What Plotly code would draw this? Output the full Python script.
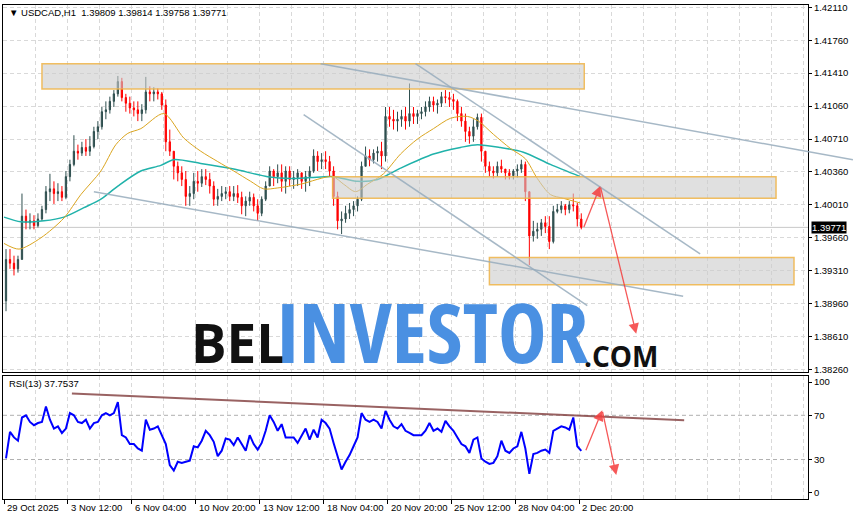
import plotly.graph_objects as go

# ---------------- data ----------------
symbol = "USDCAD,H1"
header_ohlc = ["1.39809", "1.39814", "1.39758", "1.39771"]
rsi_title = "RSI(13) 37.7537"
last_price = 1.39771

first_open = 1.3899
close = [1.3943,1.3939,1.3933,1.3943,1.3989,1.3982,1.3984,1.3979,1.3986,1.3996,
         1.4015,1.4018,1.4013,1.4015,1.4009,1.4031,1.4044,1.4058,1.4056,1.4062,
         1.4058,1.4063,1.4079,1.4084,1.4100,1.4102,1.4111,1.4119,1.4132,1.4115,
         1.4109,1.4104,1.4102,1.4098,1.4102,1.4121,1.4119,1.4121,1.4119,1.4107,
         1.4068,1.4058,1.4042,1.4035,1.4028,1.4010,1.4013,1.4026,1.4024,1.4031,
         1.4028,1.4021,1.4007,1.4010,1.4013,1.4015,1.4010,1.4013,1.4009,1.4000,
         1.4005,1.4009,1.4000,1.3992,1.4007,1.4021,1.4037,1.4031,1.4035,1.4026,
         1.4037,1.4028,1.4030,1.4035,1.4026,1.4031,1.4037,1.4053,1.4047,1.4049,
         1.4047,1.4037,1.4010,1.3984,1.3986,1.3992,1.3996,1.4000,1.4007,1.4042,
         1.4053,1.4049,1.4056,1.4058,1.4053,1.4095,1.4092,1.4090,1.4092,1.4095,
         1.4090,1.4098,1.4095,1.4098,1.4100,1.4105,1.4111,1.4107,1.4109,1.4116,
         1.4115,1.4113,1.4111,1.4098,1.4090,1.4079,1.4074,1.4084,1.4094,1.4058,
         1.4042,1.4037,1.4035,1.4042,1.4039,1.4035,1.4032,1.4037,1.4039,1.4044,
         1.4015,1.3968,1.3973,1.3975,1.3982,1.3978,1.3962,1.3994,1.3996,1.4000,
         1.3996,1.4001,1.4000,1.3986,1.39771]
high = [1.3954,1.3954,1.3947,1.3947,1.4013,1.3996,1.3992,1.3990,1.3992,1.4000,
        1.4021,1.4034,1.4026,1.4024,1.4021,1.4037,1.4049,1.4075,1.4065,1.4068,
        1.4071,1.4074,1.4084,1.4090,1.4105,1.4111,1.4116,1.4123,1.4138,1.4136,
        1.4119,1.4116,1.4111,1.4111,1.4108,1.4137,1.4127,1.4126,1.4125,1.4121,
        1.4113,1.4081,1.4058,1.4047,1.4042,1.4037,1.4021,1.4035,1.4037,1.4039,
        1.4039,1.4035,1.4026,1.4018,1.4021,1.4020,1.4021,1.4021,1.4022,1.4015,
        1.4010,1.4015,1.4013,1.4007,1.4010,1.4026,1.4042,1.4039,1.4044,1.4044,
        1.4042,1.4042,1.4037,1.4039,1.4035,1.4037,1.4042,1.4060,1.4058,1.4056,
        1.4058,1.4053,1.4042,1.4015,1.3994,1.4000,1.4003,1.4005,1.4010,1.4047,
        1.4063,1.4060,1.4060,1.4063,1.4068,1.4105,1.4105,1.4102,1.4100,1.4102,
        1.4105,1.4130,1.4105,1.4102,1.4105,1.4111,1.4116,1.4116,1.4113,1.4121,
        1.4123,1.4121,1.4119,1.4113,1.4105,1.4098,1.4084,1.4092,1.4098,1.4098,
        1.4058,1.4047,1.4042,1.4047,1.4049,1.4039,1.4039,1.4039,1.4044,1.4049,
        1.4047,1.4015,1.3984,1.3982,1.3986,1.3989,1.3989,1.4000,1.4002,1.4005,
        1.4002,1.4005,1.4013,1.4003,1.3992]
low = [1.3888,1.3933,1.3926,1.3929,1.3943,1.3975,1.3975,1.3975,1.3977,1.3984,
       1.3992,1.4005,1.4002,1.4005,1.4005,1.4007,1.4026,1.4042,1.4049,1.4053,
       1.4053,1.4053,1.4061,1.4071,1.4081,1.4092,1.4098,1.4105,1.4116,1.4111,
       1.4100,1.4098,1.4095,1.4090,1.4090,1.4098,1.4111,1.4111,1.4113,1.4102,
       1.4058,1.4053,1.4028,1.4026,1.4021,1.4000,1.4000,1.4007,1.4015,1.4020,
       1.4022,1.4013,1.4000,1.4000,1.4005,1.4007,1.4005,1.4005,1.4003,1.3991,
       1.3989,1.4000,1.3994,1.3984,1.3989,1.4005,1.4021,1.4021,1.4024,1.4015,
       1.4013,1.4021,1.4018,1.4021,1.4018,1.4015,1.4021,1.4035,1.4037,1.4039,
       1.4039,1.4031,1.4000,1.3975,1.3970,1.3982,1.3986,1.3989,1.3994,1.4005,
       1.4042,1.4042,1.4045,1.4047,1.4039,1.4047,1.4084,1.4081,1.4079,1.4084,
       1.4081,1.4084,1.4087,1.4087,1.4092,1.4095,1.4100,1.4100,1.4098,1.4105,
       1.4109,1.4105,1.4102,1.4090,1.4084,1.4068,1.4066,1.4068,1.4081,1.4047,
       1.4035,1.4031,1.4029,1.4031,1.4035,1.4028,1.4028,1.4028,1.4030,1.4035,
       1.4005,1.3937,1.3962,1.3965,1.3968,1.3971,1.3954,1.3960,1.3992,1.3992,
       1.3990,1.3992,1.3994,1.3978,1.3975]
rsi = [31,55,50,47,68,70,64,61,63,64,
       78,66,58,60,54,58,72,70,64,63,
       66,58,63,64,70,72,70,72,82,52,
       50,44,44,40,38,66,57,58,60,52,
       44,25,20,28,27,28,29,42,41,47,
       56,52,46,33,38,49,48,43,50,44,
       38,52,44,39,45,56,70,64,56,62,
       50,50,50,45,52,58,48,57,50,66,
       63,58,45,33,21,28,34,42,50,72,
       66,64,66,64,58,74,66,60,58,62,
       56,54,52,52,52,56,63,56,58,55,
       65,60,56,50,44,42,36,48,50,31,
       28,26,27,33,47,38,36,40,42,55,
       40,17,35,36,38,39,36,56,58,60,
       59,57,68,42,37.7537]

bar_hours = 4  # each drawn candle aggregates 4 hourly bars

ma_fast_hours = [0,15,37,60,77,97,112,124,137,160,180,197,214,230,247,260,274,297,329,340,
                 352,364,380,397,414,430,447,464,475,490,507,522,534,547,560,577]
ma_fast = [1.3960,1.3954,1.3966,1.3987,1.4012,1.4037,1.4065,1.4077,1.4082,1.4098,
           1.4072,1.4058,1.4047,1.4037,1.4026,1.4018,1.4019,1.4023,1.4031,1.4023,
           1.4015,1.4023,1.4034,1.4055,1.4071,1.4082,1.4093,1.4095,1.4090,1.4076,
           1.4061,1.4050,1.4029,1.4012,1.4008,1.4003]
ma_slow_hours = [0,17,40,60,80,97,114,137,157,170,197,230,264,287,307,330,354,374,397,430,
                 457,474,497,520,547,577]
ma_slow = [1.3988,1.3983,1.3984,1.3988,1.3998,1.4007,1.4021,1.4037,1.4043,1.4049,
           1.4045,1.4039,1.4031,1.4029,1.4030,1.4031,1.4026,1.4028,1.4040,1.4055,
           1.4062,1.4065,1.4062,1.4057,1.4044,1.4031]

date_labels = ["29 Oct 2025", "3 Nov 12:00", "6 Nov 04:00", "10 Nov 20:00", "13 Nov 12:00",
               "18 Nov 04:00", "20 Nov 20:00", "25 Nov 12:00", "28 Nov 04:00", "2 Dec 20:00"]
date_label_hours = [0, 64, 128, 192, 256, 320, 384, 448, 512, 576]
price_ticks = [1.42110, 1.41760, 1.41410, 1.41060, 1.40710, 1.40360,
               1.40010, 1.39660, 1.39310, 1.38960, 1.38610, 1.38260]
rsi_ticks = [0, 30, 70, 100]
rsi_levels = [30, 70]

# drawn objects (hour index, price)
zones = [(38, 581, 1.4124, 1.4151), (329, 773, 1.4008, 1.4031), (486, 791, 1.3916, 1.3945)]
trend_lines = [((317, 1.4151), (850, 1.4049)), ((90, 1.4015), (680, 1.3904)),
               ((300, 1.4097), (584, 1.3894)), ((412, 1.4151), (697, 1.3949))]
price_arrows = [((580, 1.3976), (597, 1.4021)), ((597, 1.4021), (633, 1.3864))]
rsi_arrows = [((582, 37), (599, 74.5)), ((599, 74.5), (613, 16))]
rsi_trend = ((68, 89.8), (681, 65.5))

# ---------------- figure ----------------
W, H = 854, 520
PL, PR, PT, PB = 2, 808, 3, 499
X0, X1 = -1, 805
Y0, Y1 = 1.38239, 1.42134
R0, R1 = -5.7, 106.0
MAIN_DOM = [(PB - 371) / (PB - PT), 1.0]
RSI_DOM = [0.0, (PB - 375) / (PB - PT)]


def xpap(px):
    return (px - PL) / (PR - PL)


def ypap(py):
    return (PB - py) / (PB - PT)


def hx_pap(h):
    return (h - X0) / (X1 - X0)


def price_pap(p):
    return MAIN_DOM[0] + (p - Y0) / (Y1 - Y0) * (MAIN_DOM[1] - MAIN_DOM[0])


n = len(close)
xs = [bar_hours * i + bar_hours / 2 for i in range(n)]
opens = [first_open] + close[:-1]
highs = [max(h, o, c) for h, o, c in zip(high, opens, close)]
lows = [min(l, o, c) for l, o, c in zip(low, opens, close)]

FONT = "Liberation Sans, Arial, sans-serif"
GRID = "#D9D9D9"
DASH = "4px,3px"

fig = go.Figure()
fig.add_trace(go.Candlestick(
    x=xs, open=opens, high=highs, low=lows, close=close,
    xaxis="x", yaxis="y", whiskerwidth=0,
    increasing=dict(line=dict(color="#2F4F4F", width=1), fillcolor="#2F4F4F"),
    decreasing=dict(line=dict(color="#FF0000", width=1), fillcolor="#FF0000"),
    showlegend=False, hoverinfo="skip"))
fig.add_trace(go.Scatter(x=ma_slow_hours, y=ma_slow, mode="lines", xaxis="x", yaxis="y",
                         line=dict(color="#20B2AA", width=1.5, shape="spline", smoothing=0.8),
                         showlegend=False, hoverinfo="skip"))
fig.add_trace(go.Scatter(x=ma_fast_hours, y=ma_fast, mode="lines", xaxis="x", yaxis="y",
                         line=dict(color="#DAA520", width=1, shape="spline", smoothing=0.8),
                         showlegend=False, hoverinfo="skip"))
fig.add_trace(go.Scatter(x=xs, y=rsi, mode="lines", xaxis="x2", yaxis="y2",
                         line=dict(color="#0000FF", width=2),
                         showlegend=False, hoverinfo="skip"))

grid_h = [32 * k for k in range(1, 26)]
axis_line = dict(showline=True, mirror=True, linecolor="black", linewidth=1, zeroline=False)

fig.update_layout(
    width=W, height=H, autosize=False,
    margin=dict(l=PL, r=W - PR, t=PT, b=H - PB, pad=0),
    paper_bgcolor="white", plot_bgcolor="white",
    font=dict(family=FONT, size=9.5, color="black"),
    boxgap=0.55,
    xaxis=dict(domain=[0, 1], anchor="y", range=[X0, X1], tickmode="array", tickvals=grid_h,
               showticklabels=False, ticks="", showgrid=True, gridcolor=GRID, griddash=DASH,
               rangeslider=dict(visible=False), fixedrange=True, **axis_line),
    xaxis2=dict(domain=[0, 1], anchor="y2", range=[X0, X1], matches="x", tickmode="array",
                tickvals=date_label_hours, showticklabels=False, ticks="outside", ticklen=4,
                tickcolor="black", showgrid=False,
                minor=dict(tickvals=grid_h, showgrid=True, gridcolor=GRID, griddash=DASH, ticks=""),
                fixedrange=True, **axis_line),
    yaxis=dict(domain=MAIN_DOM, anchor="x", side="right", range=[Y0, Y1], tickmode="array",
               tickvals=price_ticks, ticktext=[f"{p:.5f}" for p in price_ticks],
               ticks="outside", ticklen=3, tickcolor="black", showgrid=True, gridcolor=GRID,
               griddash=DASH, tickfont=dict(size=9.5), ticklabeloverflow="allow",
               fixedrange=True, **axis_line),
    yaxis2=dict(domain=RSI_DOM, anchor="x2", side="right", range=[R0, R1], tickmode="array",
                tickvals=rsi_ticks, ticktext=[str(v) for v in rsi_ticks], ticks="outside",
                ticklen=3, tickcolor="black", showgrid=False, tickfont=dict(size=9.5),
                ticklabeloverflow="allow", fixedrange=True, **axis_line),
)

shapes = []
# last price line
shapes.append(dict(type="line", xref="paper", yref="y", x0=0, x1=1, y0=last_price, y1=last_price,
                   line=dict(color="#C8C8C8", width=1), layer="below"))
# RSI levels
for lv in rsi_levels:
    shapes.append(dict(type="line", xref="paper", yref="y2", x0=0, x1=1, y0=lv, y1=lv,
                       line=dict(color="#B0B0B0", width=1, dash=DASH), layer="below"))
# zones
for (h0, h1, p0, p1) in zones:
    shapes.append(dict(type="rect", xref="x", yref="y", x0=h0, x1=h1, y0=p0, y1=p1,
                       fillcolor="rgba(203,203,203,0.6)",
                       line=dict(color="rgba(240,180,70,0.85)", width=1.5), layer="above"))
# trend lines (paper refs so they can run over the price scale)
for (a, b) in trend_lines:
    shapes.append(dict(type="line", xref="paper", yref="paper",
                       x0=hx_pap(a[0]), y0=price_pap(a[1]), x1=hx_pap(b[0]), y1=price_pap(b[1]),
                       line=dict(color="rgba(150,172,188,0.85)", width=1.5), layer="above"))
# RSI trend line
shapes.append(dict(type="line", xref="x2", yref="y2", x0=rsi_trend[0][0], y0=rsi_trend[0][1],
                   x1=rsi_trend[1][0], y1=rsi_trend[1][1],
                   line=dict(color="rgba(135,70,70,0.85)", width=2), layer="above"))
fig.update_layout(shapes=shapes)

ann = []
ARROW = "rgba(245,60,60,0.85)"
for (a, b) in price_arrows:
    ann.append(dict(x=b[0], y=b[1], ax=a[0], ay=a[1], xref="x", yref="y", axref="x", ayref="y",
                    text="", showarrow=True, arrowhead=2, arrowsize=1.6, arrowwidth=1.3,
                    arrowcolor=ARROW, standoff=0))
for (a, b) in rsi_arrows:
    ann.append(dict(x=b[0], y=b[1], ax=a[0], ay=a[1], xref="x2", yref="y2", axref="x2", ayref="y2",
                    text="", showarrow=True, arrowhead=2, arrowsize=1.6, arrowwidth=1.3,
                    arrowcolor=ARROW, standoff=0))
# header
ann.append(dict(xref="paper", yref="paper", x=xpap(6), y=ypap(11), xanchor="left", yanchor="middle",
                text="▼ " + symbol + "\u00a0\u00a0" + " ".join(header_ohlc), showarrow=False,
                font=dict(size=9.5, color="black")))
ann.append(dict(xref="paper", yref="paper", x=xpap(6), y=ypap(383), xanchor="left", yanchor="middle",
                text=rsi_title, showarrow=False, font=dict(size=9.5, color="black")))
# last price tag
ann.append(dict(xref="paper", yref="y", x=1, y=last_price, xanchor="left", yanchor="middle",
                xshift=3, text=f"{last_price:.5f}", showarrow=False, bgcolor="black",
                borderpad=0, font=dict(size=9.5, color="white")))
# date labels
for h, lab in zip(date_label_hours, date_labels):
    ann.append(dict(xref="x2", yref="paper", x=h, y=ypap(508), xanchor="left", yanchor="middle",
                    xshift=1, text=lab, showarrow=False, font=dict(size=9.5, color="black")))
# watermark
WM = "Open Sans, Liberation Sans, Arial, sans-serif"
ann.append(dict(xref="paper", yref="paper", x=xpap(238), y=ypap(342), xanchor="center",
                yanchor="middle", text="<b>BEL</b>",
                showarrow=False, font=dict(family=WM, size=53, color="#111111")))
ann.append(dict(xref="paper", yref="paper", x=xpap(433), y=ypap(330), xanchor="center",
                yanchor="middle", text='<span style="font-stretch:75%"><b>INVESTOR</b></span>',
                showarrow=False, font=dict(family=WM, size=82, color="#4A90E2")))
ann.append(dict(xref="paper", yref="paper", x=xpap(621), y=ypap(355), xanchor="center",
                yanchor="middle", text="<b>.COM</b>",
                showarrow=False, font=dict(family=WM, size=28, color="#111111")))
fig.update_layout(annotations=ann)

fig.write_html("out.html", config={"displayModeBar": False},
               post_script="document.body.style.margin='0';")
